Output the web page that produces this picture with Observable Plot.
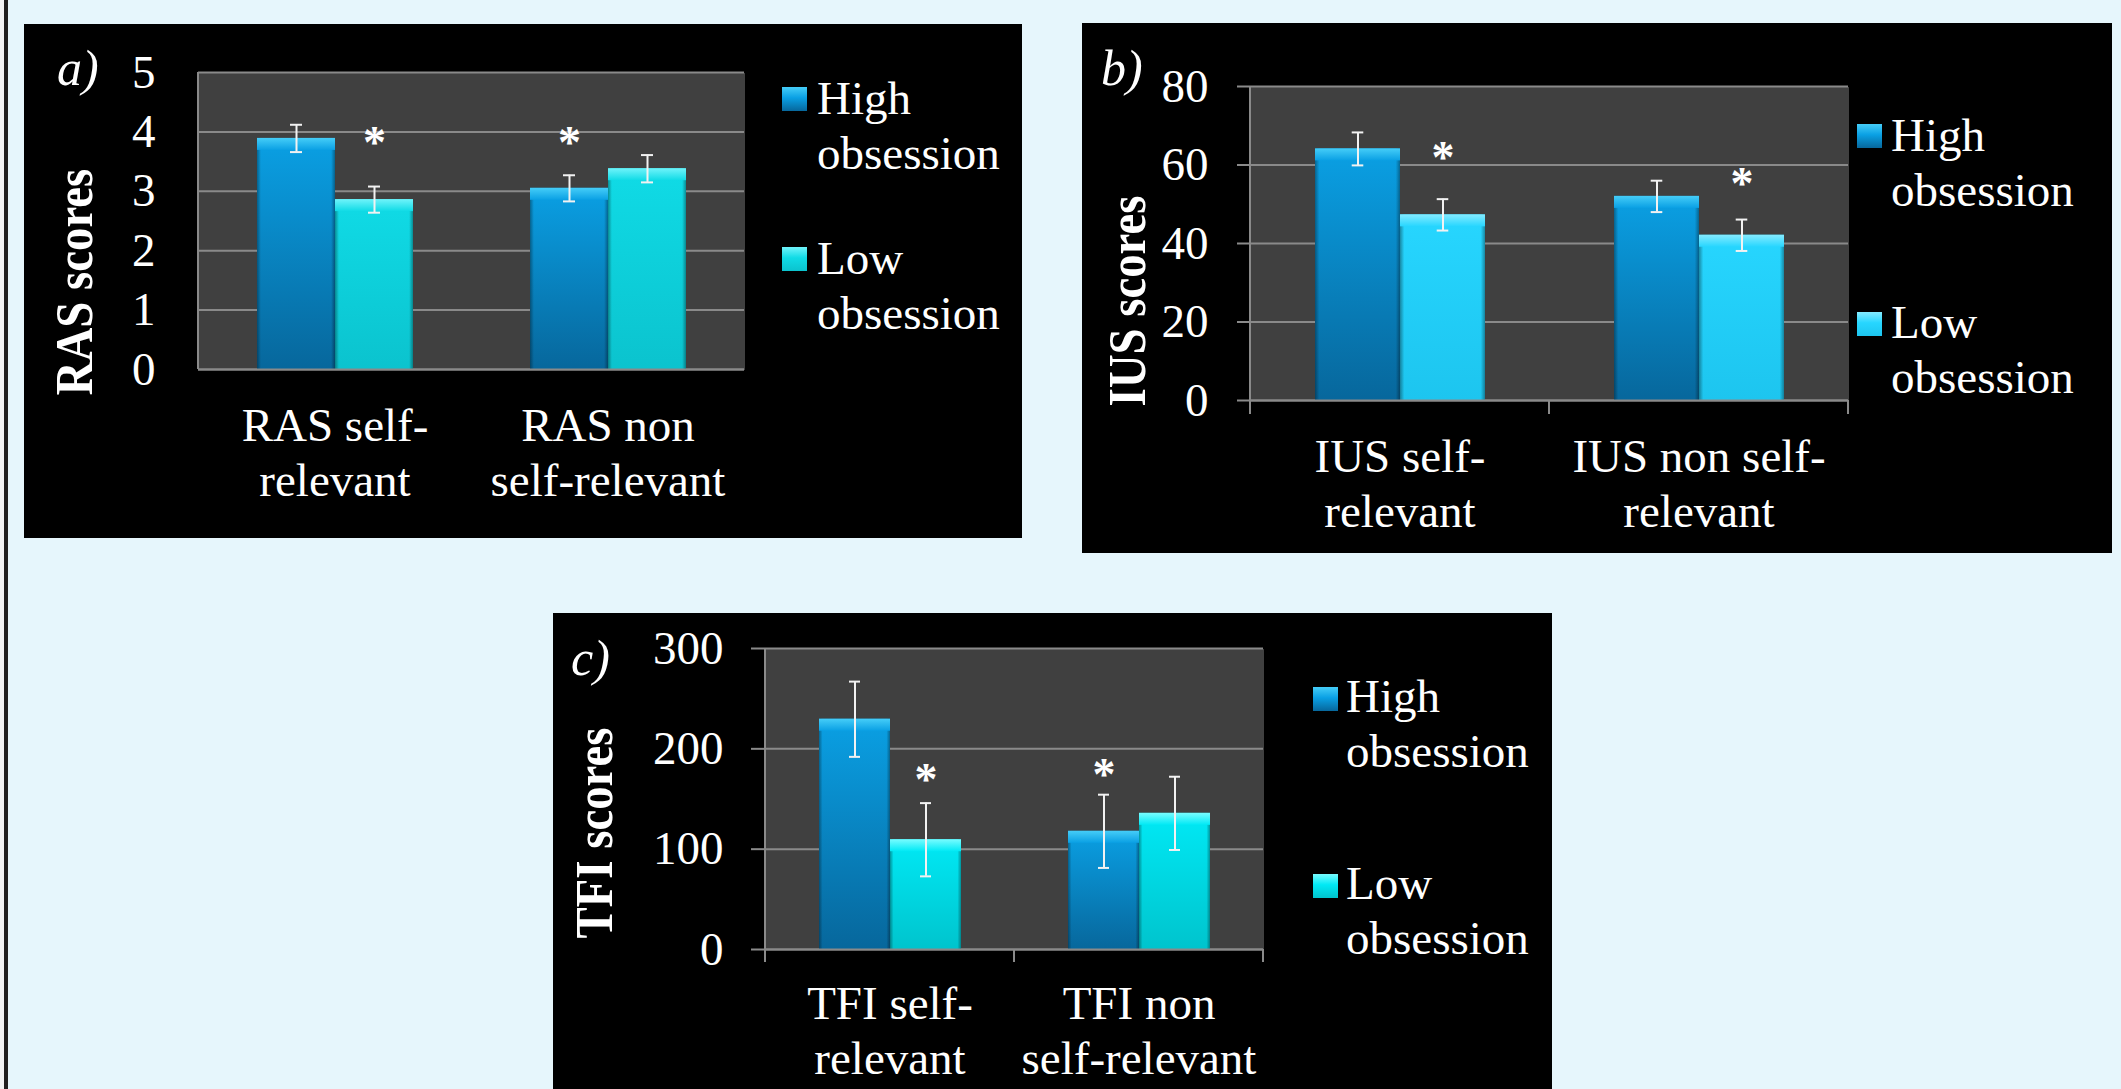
<!DOCTYPE html>
<html>
<head>
<meta charset="utf-8">
<script src="https://cdn.jsdelivr.net/npm/d3@7"></script>
<script src="https://cdn.jsdelivr.net/npm/@observablehq/plot@0.6"></script>
<style>
html,body{margin:0;padding:0;}
body{width:2121px;height:1089px;background:#e6f6fc;position:relative;overflow:hidden;font-family:'Liberation Serif','Times New Roman',serif;}
.panel{position:absolute;background:#000;}
.panel svg{position:absolute;left:0;top:0;overflow:visible;}
.letter{position:absolute;color:#fff;font-style:italic;font-size:50px;line-height:50px;white-space:nowrap;}
.ytitle{position:absolute;color:#fff;font-weight:bold;font-size:52px;line-height:52px;white-space:nowrap;transform:translate(-50%,-50%) rotate(-90deg) scaleX(0.9);}
.leg{position:absolute;color:#fff;font-size:47px;line-height:55px;white-space:pre;}
.sw{position:absolute;width:25px;height:24px;}
#edgeL{position:absolute;left:0;top:0;width:4px;height:1089px;background:#f2f4f5;}
#edge{position:absolute;left:4px;top:0;width:4px;height:1089px;background:#202020;}
</style>
</head>
<body>
<div id="edgeL"></div>
<div id="edge"></div>
<script>
// ---------------- data ----------------
const groups = ["High obsession", "Low obsession"];

const rasCategories = ["RAS self-\nrelevant", "RAS non\nself-relevant"];
const rasHigh = [3.89, 3.05];
const rasHighErr = [0.23, 0.22];
const rasLow = [2.86, 3.38];
const rasLowErr = [0.22, 0.23];
const rasTicks = [0, 1, 2, 3, 4, 5];
const rasStarCategory = ["RAS self-\nrelevant", "RAS non\nself-relevant"];
const rasStarGroup = ["Low obsession", "High obsession"];
const rasStarY = [3.93, 3.93];

const iusCategories = ["IUS self-\nrelevant", "IUS non self-\nrelevant"];
const iusHigh = [64.1, 52.0];
const iusHighErr = [4.2, 4.0];
const iusLow = [47.3, 42.1];
const iusLowErr = [4.0, 4.0];
const iusTicks = [0, 20, 40, 60, 80];
const iusStarCategory = ["IUS self-\nrelevant", "IUS non self-\nrelevant"];
const iusStarGroup = ["Low obsession", "Low obsession"];
const iusStarY = [63.4, 57.0];

const tfiCategories = ["TFI self-\nrelevant", "TFI non\nself-relevant"];
const tfiHigh = [229.5, 117.8];
const tfiHighErr = [37.5, 36.5];
const tfiLow = [109.4, 135.7];
const tfiLowErr = [36.5, 36.5];
const tfiTicks = [0, 100, 200, 300];
const tfiStarCategory = ["TFI self-\nrelevant", "TFI non\nself-relevant"];
const tfiStarGroup = ["Low obsession", "High obsession"];
const tfiStarY = [176, 181];

// ---------------- styling / layout ----------------
const GRID = "#8a8a8a";
const FONT = "'Liberation Serif','Times New Roman',serif";

function rowsOf(cats, high, highErr, low, lowErr) {
  return cats.flatMap((c, i) => [
    {cat: c, group: groups[0], value: high[i], err: highErr[i]},
    {cat: c, group: groups[1], value: low[i], err: lowErr[i]}
  ]);
}
function starsOf(cats, grps, ys) {
  return cats.map((c, i) => ({cat: c, group: grps[i], y: ys[i]}));
}

const panels = [
  {
    id: "pa", left: 24, top: 24, w: 998, h: 514, ml: 174, mr: 278, mt: 48, mb: 169, pad: 0.75,
    cats: rasCategories, rows: rowsOf(rasCategories, rasHigh, rasHighErr, rasLow, rasLowErr),
    stars: starsOf(rasStarCategory, rasStarGroup, rasStarY),
    domain: [0, 5], ticks: rasTicks, tickSize: 0, tickPad: 43, xTick: 0, labelDy: 32.7,
    col: {hiTop: "#0aa0e4", hiBot: "#07679c", hiBevel: "#45cdf8", loTop: "#10dbe6", loBot: "#0bc3ce", loBevel: "#70f3fa"},
    letter: "a)", letterPos: [57, 43], title: "RAS scores", titlePos: [75, 282],
    legend: {sx: 782, tx: 817, sy: [87, 247], ty: [71.4, 231.1]}
  },
  {
    id: "pb", left: 1082, top: 23, w: 1030, h: 530, ml: 168, mr: 264, mt: 63, mb: 153, pad: 0.75,
    cats: iusCategories, rows: rowsOf(iusCategories, iusHigh, iusHighErr, iusLow, iusLowErr),
    stars: starsOf(iusStarCategory, iusStarGroup, iusStarY),
    domain: [0, 80], ticks: iusTicks, tickSize: 13, tickPad: 29, xTick: 14, labelDy: 32.7,
    col: {hiTop: "#0aa0e4", hiBot: "#07679c", hiBevel: "#45cdf8", loTop: "#27d6ff", loBot: "#1dc5ef", loBevel: "#85ebff"},
    letter: "b)", letterPos: [1101, 43], title: "IUS scores", titlePos: [1127.5, 301],
    legend: {sx: 1857, tx: 1891, sy: [124, 312], ty: [107.8, 295.4]}
  },
  {
    id: "pc", left: 553, top: 613, w: 999, h: 476, ml: 212, mr: 289, mt: 35, mb: 140, pad: 0.73,
    cats: tfiCategories, rows: rowsOf(tfiCategories, tfiHigh, tfiHighErr, tfiLow, tfiLowErr),
    stars: starsOf(tfiStarCategory, tfiStarGroup, tfiStarY),
    domain: [0, 300], ticks: tfiTicks, tickSize: 14, tickPad: 28, xTick: 13, labelDy: 30.3,
    col: {hiTop: "#0aa0e4", hiBot: "#07679c", hiBevel: "#45cdf8", loTop: "#00e9f5", loBot: "#00c4cd", loBevel: "#78fcff"},
    letter: "c)", letterPos: [571, 633], title: "TFI scores", titlePos: [595, 833],
    legend: {sx: 1313, tx: 1346, sy: [687, 874], ty: [668.8, 856.4]}
  }
];

function addDefs(svg, id, col) {
  const defs = d3.select(svg).insert("defs", ":first-child");
  const vg = (name, stops) => {
    const g = defs.append("linearGradient").attr("id", `${id}-${name}`)
      .attr("x1", 0).attr("y1", 0).attr("x2", 0).attr("y2", 1);
    stops.forEach(([o, c, op]) => g.append("stop").attr("offset", o).attr("stop-color", c).attr("stop-opacity", op ?? 1));
  };
  vg("hi", [[0, col.hiTop], [1, col.hiBot]]);
  vg("lo", [[0, col.loTop], [1, col.loBot]]);
  vg("hib", [[0, col.hiBevel], [1, col.hiTop]]);
  vg("lob", [[0, col.loBevel], [1, col.loTop]]);
  const hg = defs.append("linearGradient").attr("id", `${id}-side`)
    .attr("x1", 0).attr("y1", 0).attr("x2", 1).attr("y2", 0);
  [[0, "#000", 0.35], [0.05, "#000", 0], [0.95, "#000", 0], [1, "#000", 0.35]]
    .forEach(([o, c, op]) => hg.append("stop").attr("offset", o).attr("stop-color", c).attr("stop-opacity", op));
}

function drawPanel(p) {
  const div = document.createElement("div");
  div.className = "panel";
  Object.assign(div.style, {left: p.left + "px", top: p.top + "px", width: p.w + "px", height: p.h + "px"});
  document.body.appendChild(div);

  const plotW = p.w - p.ml - p.mr;
  const bw = (plotW / 2) / (2 + 2 * p.pad);
  const capInset = Math.max(0, (bw - 12) / 2);
  const high = p.rows.filter(d => d.group === groups[0]);
  const low = p.rows.filter(d => d.group === groups[1]);
  const errStroke = {stroke: "#f2f2f2", strokeWidth: 2};

  const plot = Plot.plot({
    width: p.w, height: p.h,
    marginLeft: p.ml, marginRight: p.mr, marginTop: p.mt, marginBottom: p.mb,
    fx: {domain: p.cats, padding: 0, axis: null},
    x: {domain: groups, paddingInner: 0, paddingOuter: p.pad, axis: null},
    y: {domain: p.domain},
    style: {background: "transparent", color: "white", fontFamily: FONT, overflow: "visible"},
    marks: [
      Plot.frame({fill: "#404040", stroke: "none", shapeRendering: "crispEdges"}),
      Plot.gridY(p.ticks, {stroke: GRID, strokeOpacity: 1, strokeWidth: 2}),
      Plot.barY(high, {fx: "cat", x: "group", y: "value", fill: `url(#${p.id}-hi)`}),
      Plot.barY(low, {fx: "cat", x: "group", y: "value", fill: `url(#${p.id}-lo)`}),
      Plot.barY(p.rows, {fx: "cat", x: "group", y: "value", fill: `url(#${p.id}-side)`}),
      Plot.barY(high, {fx: "cat", x: "group", y1: "value", y2: "value", insetBottom: -12, fill: `url(#${p.id}-hib)`}),
      Plot.barY(low, {fx: "cat", x: "group", y1: "value", y2: "value", insetBottom: -12, fill: `url(#${p.id}-lob)`}),
      Plot.ruleY([0], {stroke: GRID, strokeWidth: 2}),
      Plot.ruleX(p.rows, {fx: "cat", x: "group", y1: d => d.value - d.err, y2: d => d.value + d.err, ...errStroke}),
      Plot.tickY(p.rows, {fx: "cat", x: "group", y: d => d.value + d.err, insetLeft: capInset, insetRight: capInset, ...errStroke}),
      Plot.tickY(p.rows, {fx: "cat", x: "group", y: d => d.value - d.err, insetLeft: capInset, insetRight: capInset, ...errStroke}),
      Plot.text(p.stars, {fx: "cat", x: "group", y: "y", text: () => "*", fontSize: 46, fontWeight: "bold", fill: "white", dy: 7}),
      Plot.text(p.cats, {fx: d => d, text: d => d, frameAnchor: "bottom", lineAnchor: "top", dy: p.labelDy, fontSize: 47, lineHeight: 1.17, fill: "white"}),
      Plot.axisY({ticks: p.ticks, tickSize: p.tickSize, tickPadding: p.tickPad, fontSize: 47, fill: "white", stroke: GRID, strokeWidth: 2, tickFormat: d => String(d)})
    ]
  });
  addDefs(plot, p.id, p.col);
  div.appendChild(plot);

  // axis line on the left and category ticks below the baseline
  const svg = d3.select(plot);
  let yS, fxS;
  try { yS = plot.scale("y"); fxS = plot.scale("fx"); } catch (e) {}
  const yTop = yS ? yS.apply(p.domain[1]) : p.mt;
  const y0 = yS ? yS.apply(0) : p.h - p.mb;
  const edges = [];
  if (fxS && fxS.apply) {
    p.cats.forEach(c => edges.push(fxS.apply(c)));
    edges.push(fxS.apply(p.cats[p.cats.length - 1]) + fxS.bandwidth);
  } else {
    for (let i = 0; i <= p.cats.length; i++) edges.push(p.ml + i * plotW / p.cats.length);
  }
  const g = svg.append("g").attr("stroke", GRID).attr("stroke-width", 2);
  g.append("line").attr("x1", edges[0]).attr("x2", edges[0]).attr("y1", yTop).attr("y2", y0 + p.xTick);
  if (p.xTick > 0) {
    edges.slice(1).forEach(x => g.append("line").attr("x1", x).attr("x2", x).attr("y1", y0).attr("y2", y0 + p.xTick));
  }

  // panel letter
  const L = document.createElement("div");
  L.className = "letter"; L.textContent = p.letter;
  L.style.left = p.letterPos[0] + "px"; L.style.top = p.letterPos[1] + "px";
  document.body.appendChild(L);
  // y title
  const T = document.createElement("div");
  T.className = "ytitle"; T.textContent = p.title;
  T.style.left = p.titlePos[0] + "px"; T.style.top = p.titlePos[1] + "px";
  document.body.appendChild(T);
  // legend
  const grads = [
    [p.col.hiBevel, p.col.hiTop, p.col.hiBot],
    [p.col.loBevel, p.col.loTop, p.col.loBot]
  ];
  groups.forEach((gname, i) => {
    const s = document.createElement("div");
    s.className = "sw";
    s.style.left = p.legend.sx + "px"; s.style.top = p.legend.sy[i] + "px";
    s.style.background = `linear-gradient(to bottom, ${grads[i][0]} 0%, ${grads[i][1]} 45%, ${grads[i][2]} 100%)`;
    document.body.appendChild(s);
    const t = document.createElement("div");
    t.className = "leg";
    t.textContent = gname.replace(" ", "\n");
    t.style.left = p.legend.tx + "px"; t.style.top = p.legend.ty[i] + "px";
    document.body.appendChild(t);
  });
}

panels.forEach(drawPanel);
</script>
</body>
</html>
